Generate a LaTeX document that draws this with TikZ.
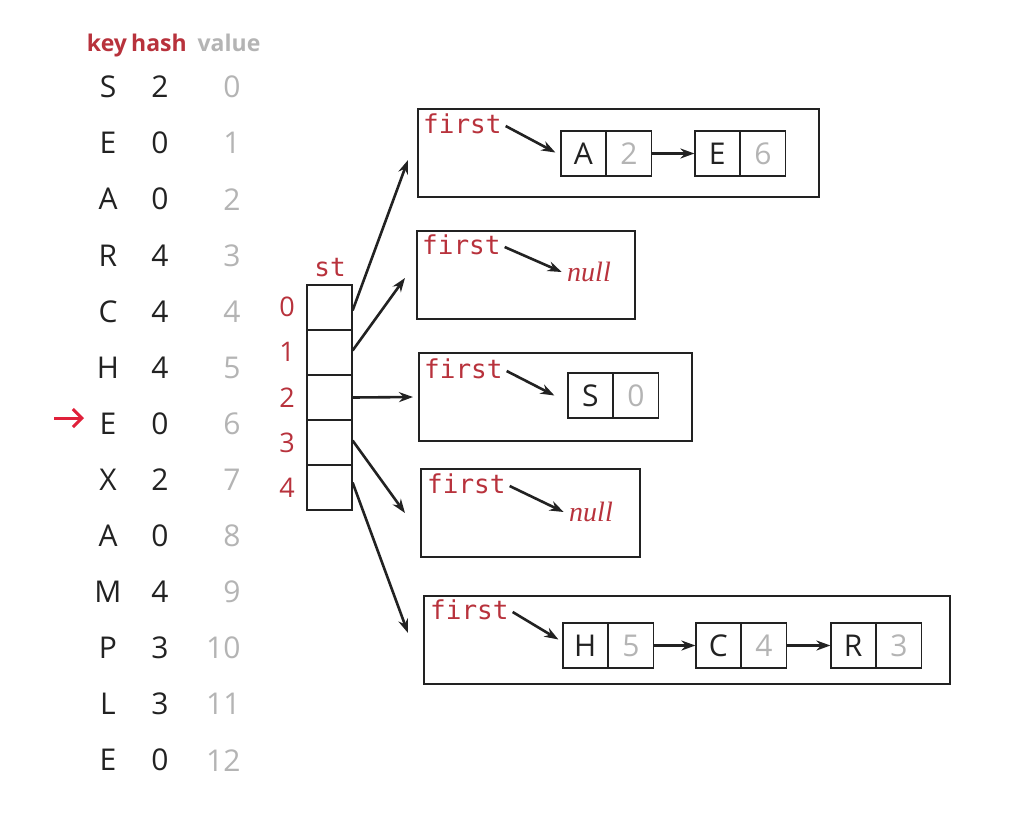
\documentclass[tikz,border=0pt]{standalone}
\usepackage{fontspec}
\setmainfont{Open Sans}
\newfontfamily\monof{DejaVu Sans Mono}
\newfontfamily\serf{Liberation Serif}
\usetikzlibrary{arrows.meta,calc}
\definecolor{redt}{HTML}{B8323C}
\definecolor{grayt}{HTML}{B4B4B4}
\definecolor{inkc}{HTML}{222222}
\definecolor{ptr}{HTML}{E0203A}
\tikzset{
  hdr/.style={font=\fontsize{23}{23}\selectfont\bfseries, anchor=base},
  keyt/.style={font=\fontsize{30}{30}\selectfont, text=inkc},
  valt/.style={font=\fontsize{30}{30}\selectfont, text=grayt, anchor=east},
  idx/.style={font=\fontsize{27}{27}\selectfont, text=redt},
  stcell/.style={draw=inkc, line width=1.2pt, minimum width=45pt, minimum height=45pt, inner sep=0pt},
  chainbox/.style={draw=inkc, line width=1.5pt, inner sep=0pt, anchor=north west},
  firstt/.style={font=\monof\fontsize{26}{26}\selectfont, text=redt, anchor=west, inner sep=0pt},
  kcell/.style={draw=inkc, line width=1.2pt, minimum width=44.5pt, minimum height=45pt, inner sep=0pt, font=\fontsize{30}{30}\selectfont, text=inkc},
  vcell/.style={draw=inkc, line width=1.2pt, minimum width=44.5pt, minimum height=45pt, inner sep=0pt, font=\fontsize{30}{30}\selectfont, text=grayt},
  nullt/.style={font=\serf\itshape\fontsize{28}{28}\selectfont, text=redt},
  arr/.style={draw=inkc, line width=2.6pt, -{Stealth[length=14pt,width=10pt]}},
}
\begin{document}
\begin{tikzpicture}[x=1pt,y=-1pt]
\useasboundingbox[fill=white] (0,0) rectangle (1024,820);
% header
\node[hdr, text=redt] (hk) at (107,51) {key};
\node[hdr, text=redt] (hh) at (159,51) {hash};
\node[hdr, text=grayt] (hv) at (229,51) {value};
% table rows
\foreach \k/\h [count=\i from 0] in {S/2,E/0,A/0,R/4,C/4,H/4,E/0,X/2,A/0,M/4,P/3,L/3,E/0}{
  \node[keyt] (k\i) at (108,{87+56.1*\i}) {\k};
  \node[keyt] (h\i) at (160,{87+56.1*\i}) {\h};
  \node[valt] (v\i) at (244,{87+56.1*\i}) {\i};
}
% red pointer
\coordinate (pa) at (54,418);
\coordinate (pb) at (84,418);
\draw[ptr, line width=3pt, -{Straight Barb[length=9pt,width=18pt]}] (pa) -- (pb);
% st array
\node[font=\monof\fontsize{26}{26}\selectfont, text=redt] (stl) at (330,268) {st};
\foreach \i in {0,...,4}{
  \node[stcell] (c\i) at (329.5,{307.5+45*\i}) {};
  \node[idx] (i\i) at (287,{307+45.2*\i}) {\i};
}
% chain boxes
\node[chainbox, minimum width=401pt, minimum height=88pt] (b0) at (417,108) {};
\node[chainbox, minimum width=218pt, minimum height=88pt] (b1) at (416,230) {};
\node[chainbox, minimum width=273pt, minimum height=88pt] (b2) at (418,352) {};
\node[chainbox, minimum width=219pt, minimum height=88pt] (b3) at (420,468) {};
\node[chainbox, minimum width=526pt, minimum height=88pt] (b4) at (423,595) {};
% first labels
\node[firstt] (f0) at (423,124) {first};
\node[firstt] (f1) at (422,245) {first};
\node[firstt] (f2) at (424,369) {first};
\node[firstt] (f3) at (427,484) {first};
\node[firstt] (f4) at (430,610) {first};
% list nodes
\node[kcell] (nA) at (583.25,153.5) {A};
\node[vcell, anchor=west] (nA2) at (nA.east) {2};
\node[kcell] (nE) at (717.25,153.5) {E};
\node[vcell, anchor=west] (nE6) at (nE.east) {6};
\node[nullt] (null1) at (589,272) {null};
\node[kcell] (nS) at (590.25,395.5) {S};
\node[vcell, anchor=west] (nS0) at (nS.east) {0};
\node[nullt] (null3) at (591,512) {null};
\node[kcell] (nH) at (585.25,645.5) {H};
\node[vcell, anchor=west] (nH5) at (nH.east) {5};
\node[kcell] (nC) at (718.25,645.5) {C};
\node[vcell, anchor=west] (nC4) at (nC.east) {4};
\node[kcell] (nR) at (853.25,645.5) {R};
\node[vcell, anchor=west] (nR3) at (nR.east) {3};
% first arrows
\draw[arr] ($(f0.east)+(4,2)$) -- ($(nA.west)+(-5,-1)$);
\draw[arr] ($(f1.east)+(4,2)$) -- ($(null1.west)+(-2,0)$);
\draw[arr] ($(f2.east)+(4,2)$) -- ($(nS.west)+(-13,0)$);
\draw[arr] ($(f3.east)+(4,2)$) -- ($(null3.west)+(-2,0)$);
\draw[arr] ($(f4.east)+(4,2)$) -- ($(nH.west)+(-4,-6)$);
% next arrows
\draw[arr] (nA2.east) -- (nE.west);
\draw[arr] (nH5.east) -- (nC.west);
\draw[arr] (nC4.east) -- (nR.west);
% array arrows
\draw[arr] ($(c0.east)+(0,3)$) -- ($(b0.north west)+(-9,52)$);
\draw[arr] ($(c1.east)+(0,-2)$) -- ($(b1.north west)+(-11,48)$);
\draw[arr] (c2.east) -- ($(b2.north west)+(-5,45)$);
\draw[arr] ($(c3.east)+(0,-2)$) -- ($(b3.north west)+(-15,45)$);
\draw[arr] ($(c4.east)+(0,-5)$) -- ($(b4.north west)+(-15,38)$);
\end{tikzpicture}
\end{document}
